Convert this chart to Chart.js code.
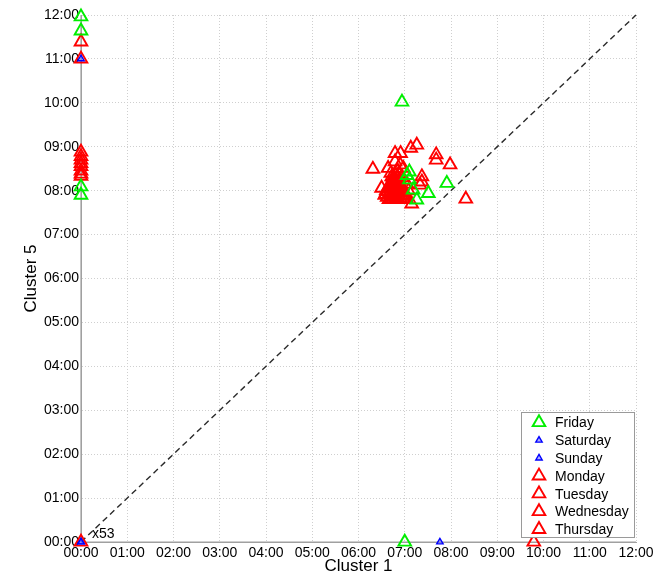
<!DOCTYPE html>
<html>
<head>
<meta charset="utf-8">
<script src="https://cdn.jsdelivr.net/npm/chart.js@4/dist/chart.umd.min.js"></script>
<style>
  html, body { margin: 0; padding: 0; background: #ffffff; }
  #wrap { width: 666px; height: 577px; position: relative; }
</style>
</head>
<body>
<div id="wrap"><canvas id="c" width="666" height="577"></canvas></div>
<script>
// ---- Data (hours since midnight: x = Cluster 1, y = Cluster 5) ----
const tickLabels = ['00:00','01:00','02:00','03:00','04:00','05:00','06:00','07:00','08:00','09:00','10:00','11:00','12:00'];
const seriesNames = ['Friday','Saturday','Sunday','Monday','Tuesday','Wednesday','Thursday'];

const fridayX = [0, 0, 0, 0, 6.94, 7.10, 7.10, 7.18, 7.51, 7.91, 7.26, 7.00, 7.05];
const fridayY = [11.96, 11.64, 8.09, 7.90, 10.02, 8.43, 8.25, 8.02, 7.94, 8.17, 7.79, 0, 8.35];

const saturdayX = [0, 0];
const saturdayY = [11.0, 0];

const sundayX = [7.76, 0];
const sundayY = [0, 0];

const mondayX = [0, 0, 0, 6.31, 6.79, 6.91, 7.13, 6.70, 6.75, 6.80, 6.85, 6.72, 6.78, 6.82, 6.88, 7.37, 6.62, 6.66, 6.74, 6.81, 6.77];
const mondayY = [11.39, 8.88, 8.62, 8.49, 8.85, 8.85, 8.97, 8.40, 8.30, 8.35, 8.28, 8.20, 8.15, 8.22, 8.18, 8.32, 7.85, 7.80, 7.80, 7.80, 8.25];

const tuesdayX = [0, 0, 0, 7.26, 6.79, 6.90, 6.65, 6.70, 6.75, 6.80, 6.85, 6.90, 7.33, 9.79, 6.86, 6.92, 6.97, 6.84, 6.76];
const tuesdayY = [11.0, 8.78, 8.55, 9.04, 8.66, 8.59, 8.10, 8.05, 8.00, 8.08, 8.02, 8.10, 8.13, 0, 7.80, 7.80, 7.80, 8.12, 8.10];

const wednesdayX = [0, 0, 6.64, 6.97, 7.68, 7.68, 6.95, 6.68, 6.73, 6.78, 6.83, 6.88, 7.37, 8.32, 6.85, 7.04, 6.58, 6.72, 6.80, 6.87];
const wednesdayY = [8.70, 8.45, 8.51, 8.51, 8.82, 8.70, 8.05, 7.95, 7.88, 7.92, 7.85, 7.95, 8.20, 7.81, 8.45, 7.80, 7.92, 8.32, 7.98, 8.38];

const thursdayX = [0, 0, 0, 7.98, 7.15, 6.50, 6.57, 6.93, 6.98, 7.02, 6.70, 6.90, 7.00, 6.95, 7.05, 6.60, 7.08, 6.82, 6.75, 6.89, 6.63];
const thursdayY = [8.38, 8.33, 0, 8.59, 7.70, 8.06, 7.90, 7.88, 7.98, 7.90, 7.82, 7.82, 7.82, 8.30, 8.15, 8.00, 8.00, 7.95, 7.90, 8.24, 7.98];

const diagX = [0, 12];
const diagY = [0, 12];

const originCount = 'x53';

// ---- build ----
function pts(xs, ys) { return xs.map((x, i) => ({ x: x, y: ys[i] })); }
const GREEN = '#00ee00', BLUE = '#0000ff', RED = '#ff0000';

function ds(label, xs, ys, color, small) {
  return {
    type: 'scatter',
    label: label,
    data: pts(xs, ys),
    pointStyle: 'triangle',
    pointRadius: small ? 3.7 : 7.3,
    pointHoverRadius: small ? 3.7 : 7.3,
    borderColor: color,
    backgroundColor: small ? 'rgba(110,110,255,0.55)' : 'rgba(0,0,0,0)',
    pointBorderWidth: small ? 1.4 : 1.9,
    borderWidth: small ? 1.4 : 1.9,
    clip: false
  };
}

const datasets = [
  ds(seriesNames[0], fridayX, fridayY, GREEN, false),
  ds(seriesNames[1], saturdayX, saturdayY, BLUE, true),
  ds(seriesNames[2], sundayX, sundayY, BLUE, true),
  ds(seriesNames[3], mondayX, mondayY, RED, false),
  ds(seriesNames[4], tuesdayX, tuesdayY, RED, false),
  ds(seriesNames[5], wednesdayX, wednesdayY, RED, false),
  ds(seriesNames[6], thursdayX, thursdayY, RED, false),
  {
    type: 'line',
    label: 'diag',
    data: pts(diagX, diagY),
    borderColor: '#2a2a2a',
    borderWidth: 1.4,
    borderDash: [6, 4],
    pointRadius: 0,
    fill: false,
    clip: false
  }
];

const FONT = "'Liberation Sans', Arial, sans-serif";

const annotationPlugin = {
  id: 'extras',
  afterDatasetsDraw(chart) {
    const ctx = chart.ctx;
    const xs = chart.scales.x, ys = chart.scales.y;
    ctx.save();
    ctx.font = '14px ' + FONT;
    ctx.fillStyle = '#000';
    ctx.textBaseline = 'alphabetic';
    ctx.textAlign = 'left';
    ctx.fillText(originCount, xs.getPixelForValue(0) + 11, ys.getPixelForValue(0) - 4);
    ctx.restore();

    const ca = chart.chartArea;
    const bw = 113, bh = 125;
    const bx = ca.right - 2 - bw, by = ca.bottom - 5 - bh;
    ctx.save();
    ctx.fillStyle = '#ffffff';
    ctx.fillRect(bx, by, bw, bh);
    ctx.strokeStyle = '#9a9a9a';
    ctx.lineWidth = 1;
    ctx.strokeRect(bx + 0.5, by + 0.5, bw, bh);
    const visible = chart.data.datasets.filter(d => d.type === 'scatter');
    visible.forEach((d, i) => {
      const cy = by + 10.5 + i * 17.8;
      const cx = bx + 18;
      const r = d.pointRadius;
      ctx.beginPath();
      for (let k = 0; k < 3; k++) {
        const a = k * 2 * Math.PI / 3;
        const px = cx + Math.sin(a) * r, py = cy - Math.cos(a) * r;
        if (k === 0) ctx.moveTo(px, py); else ctx.lineTo(px, py);
      }
      ctx.closePath();
      ctx.fillStyle = d.backgroundColor;
      ctx.fill();
      ctx.strokeStyle = d.borderColor;
      ctx.lineWidth = d.pointBorderWidth;
      ctx.stroke();
      ctx.fillStyle = '#000';
      ctx.font = '14px ' + FONT;
      ctx.textAlign = 'left';
      ctx.textBaseline = 'middle';
      ctx.fillText(d.label, bx + 34, cy + 1);
    });
    ctx.restore();
  }
};

new Chart(document.getElementById('c'), {
  data: { datasets: datasets },
  options: {
    responsive: false,
    animation: false,
    events: [],
    layout: { padding: { left: 0, top: 15, right: 30, bottom: 0 } },
    plugins: { legend: { display: false }, tooltip: { enabled: false } },
    scales: {
      x: {
        type: 'linear', min: 0, max: 12,
        afterFit(s) { s.height = 35; },
        ticks: {
          stepSize: 1, autoSkip: false, maxRotation: 0, padding: 3,
          color: '#000', font: { family: FONT, size: 14 },
          callback: (v) => tickLabels[v]
        },
        grid: { color: '#cfcfcf', lineWidth: 1, drawTicks: false },
        border: { display: true, color: '#a0a0a0', width: 1, dash: [1, 2] },
        title: { display: true, text: 'Cluster 1', color: '#000', font: { family: FONT, size: 17 }, padding: { top: 0, bottom: 0 } }
      },
      y: {
        type: 'linear', min: 0, max: 12,
        afterFit(s) { s.width = 81; },
        ticks: {
          stepSize: 1, autoSkip: false, padding: 2,
          color: '#000', font: { family: FONT, size: 14 },
          callback: (v) => tickLabels[v]
        },
        grid: { color: '#cfcfcf', lineWidth: 1, drawTicks: false },
        border: { display: true, color: '#a0a0a0', width: 1, dash: [1, 2] },
        title: { display: true, text: 'Cluster 5', color: '#000', font: { family: FONT, size: 17 }, padding: { top: 21, bottom: 0 } }
      }
    }
  },
  plugins: [annotationPlugin, {
    id: 'solidAxes',
    beforeDatasetsDraw(chart) {
      const ctx = chart.ctx, ca = chart.chartArea;
      ctx.save();
      ctx.strokeStyle = '#a0a0a0';
      ctx.lineWidth = 1.2;
      ctx.setLineDash([]);
      ctx.beginPath();
      ctx.moveTo(ca.left, ca.top); ctx.lineTo(ca.left, ca.bottom); ctx.lineTo(ca.right, ca.bottom);
      ctx.stroke();
      ctx.restore();
    }
  }]
});
</script>
</body>
</html>
